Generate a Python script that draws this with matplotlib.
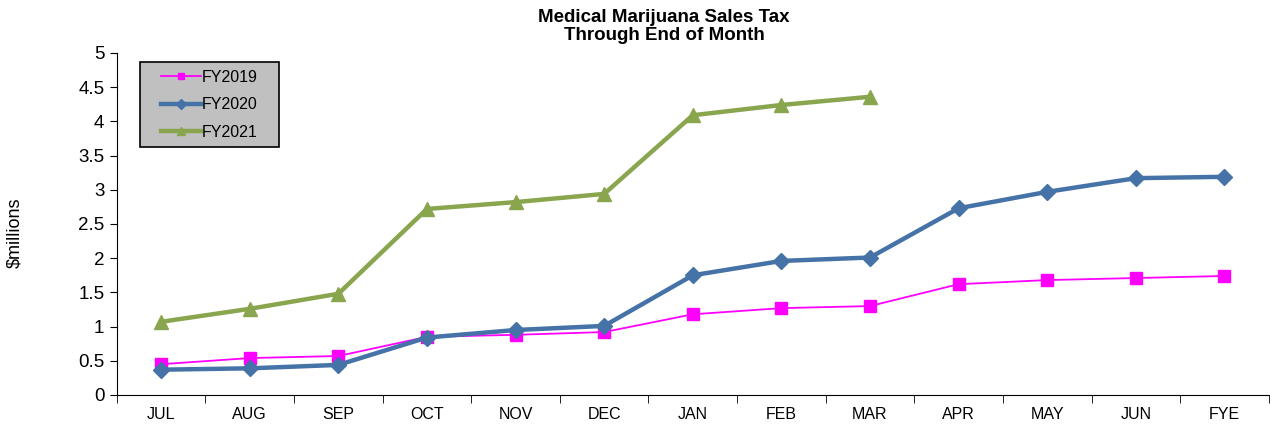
import matplotlib
matplotlib.use("Agg")
import matplotlib.pyplot as plt
from matplotlib.patches import Rectangle
import numpy as np

plt.rcParams['font.family'] = ['Liberation Sans', 'DejaVu Sans']

months = ['JUL', 'AUG', 'SEP', 'OCT', 'NOV', 'DEC', 'JAN', 'FEB', 'MAR',
          'APR', 'MAY', 'JUN', 'FYE']
fy2019 = [0.45, 0.54, 0.57, 0.85, 0.88, 0.92, 1.18, 1.27, 1.30, 1.62, 1.68, 1.71, 1.74]
fy2020 = [0.37, 0.39, 0.44, 0.84, 0.95, 1.01, 1.75, 1.96, 2.01, 2.73, 2.97, 3.17, 3.19]
fy2021 = [1.07, 1.26, 1.48, 2.72, 2.82, 2.94, 4.09, 4.24, 4.36]

fig = plt.figure(figsize=(12.7, 4.25), dpi=100)
ax = fig.add_axes([0.092, 0.0706, 0.907, 0.8047])

x = np.arange(len(months))
ax.plot(x, fy2019, color='#FF00FF', lw=1.3, marker='s', ms=8, label='FY2019')
ax.plot(x, fy2020, color='#4572A7', lw=3.2, marker='D', ms=8, label='FY2020')
ax.plot(x[:len(fy2021)], fy2021, color='#89A54E', lw=3.2, marker='^', ms=10, label='FY2021')

ax.set_xlim(-0.5, len(months) - 0.5)
ax.set_ylim(0, 5)
ax.set_yticks(np.arange(0, 5.01, 0.5))
ax.set_yticklabels(['0', '0.5', '1', '1.5', '2', '2.5', '3', '3.5', '4', '4.5', '5'])
ax.set_xticks(x)
ax.set_xticklabels(months)
ax.set_xticks(np.arange(-0.5, len(months)), minor=True)
ax.tick_params(axis='x', which='major', length=0, pad=9, labelsize=11.5)
ax.tick_params(axis='x', which='minor', length=6, direction='out')
ax.tick_params(axis='y', length=5, direction='out', labelsize=13.5, pad=4)

for s in ['top', 'right']:
    ax.spines[s].set_visible(False)

fig.text(0.012, 0.452, '$millions', rotation=90, ha='center', va='center', fontsize=13)

# legend box
ax.add_patch(Rectangle((0.02, 0.725), 0.1205, 0.2487, transform=ax.transAxes,
                       facecolor='#C0C0C0', edgecolor='black', lw=1.2, zorder=4))
leg = ax.legend(loc='center', bbox_to_anchor=(0.0803, 0.849), fontsize=11.5,
                frameon=False, markerscale=0.6, handlelength=2.5,
                handletextpad=0.1, labelspacing=0.78, borderpad=0.2)
leg.set_zorder(5)

fig.text(0.523, 0.98, 'Medical Marijuana Sales Tax\nThrough End of Month',
         ha='center', va='top', fontsize=13.5, fontweight='bold', linespacing=1.12)

fig.savefig('out.png', dpi=100)
